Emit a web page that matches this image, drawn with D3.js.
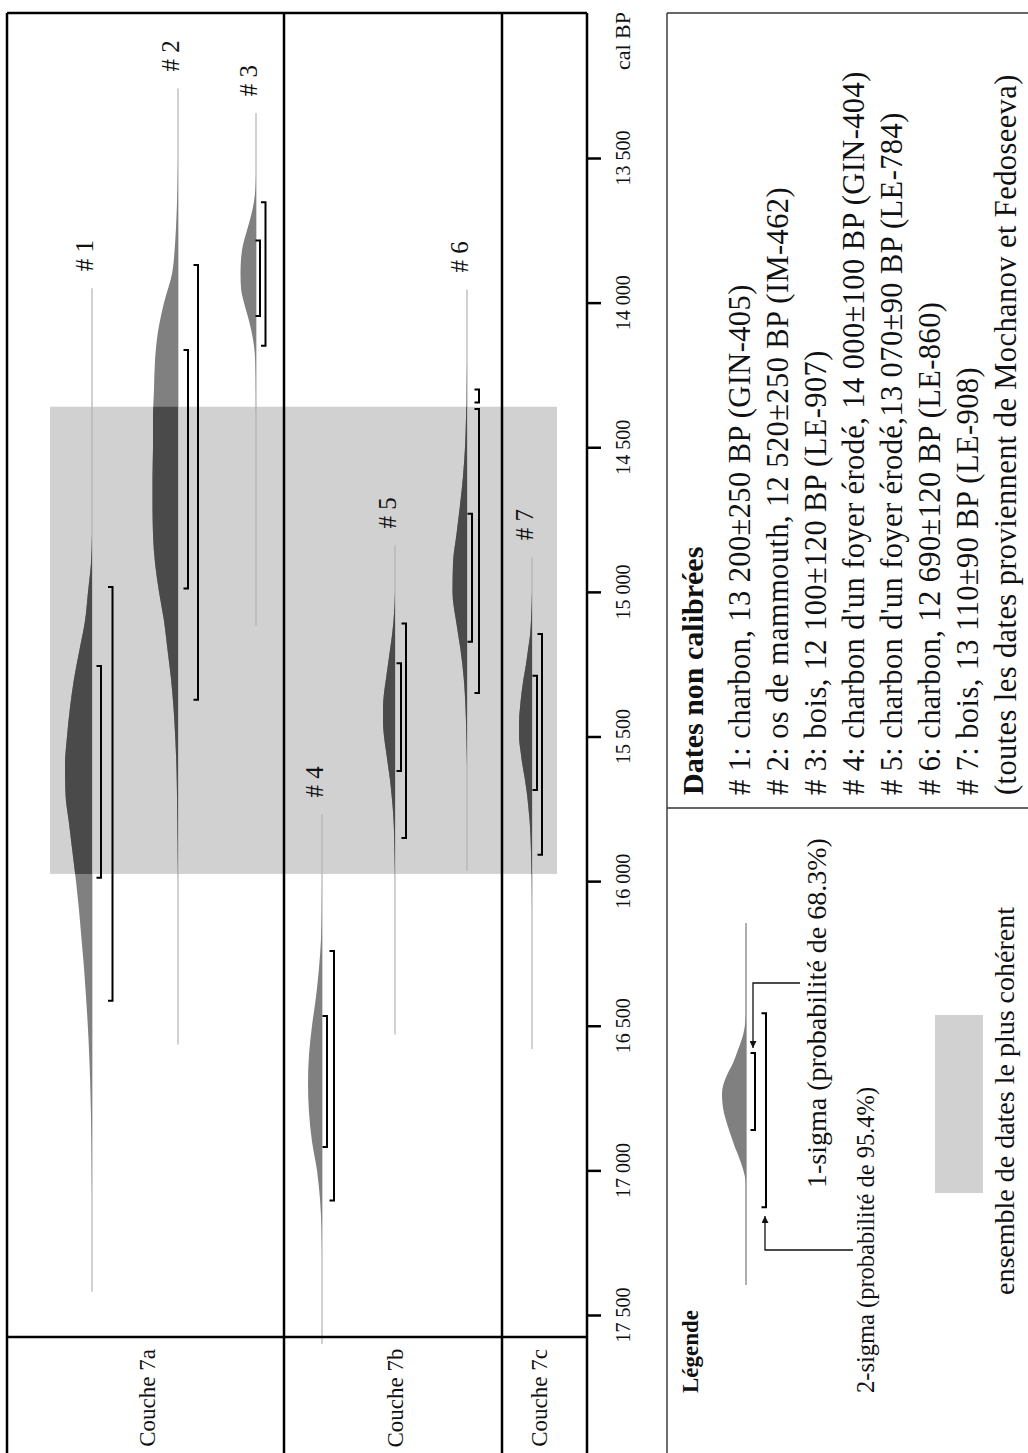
<!DOCTYPE html>
<html>
<head>
<meta charset="utf-8">
<style>
  body { margin: 0; background: #fff; }
  text { font-family: 'Liberation Serif', 'DejaVu Serif', serif; fill: #111; }
</style>
</head>
<body>
<div id="chart"></div>
<script src="https://cdnjs.cloudflare.com/ajax/libs/d3/7.8.5/d3.min.js"></script>
<script>
// all ages in years cal BP
var sampleIds = ['# 1', '# 2', '# 3', '# 4', '# 5', '# 6', '# 7'];
var layerNames = ['Couche 7a', 'Couche 7b', 'Couche 7c'];
var lineStart = [13950, 13260, 13345, 15770, 14840, 13955, 14880];
var lineEnd = [17420, 16565, 15115, 17600, 16530, 15965, 16580];
var sigma1 = [[15256, 15988], [14164, 14988], [13785, 14046], [16466, 16919], [15247, 15619], [14730, 15172], [15290, 15685]];
var sigma2 = [
  [[14983, 16414]],
  [[13870, 15373]],
  [[13653, 14149]],
  [[16242, 17104]],
  [[15109, 15851]],
  [[14300, 14345], [14368, 15350]],
  [[15146, 15909]]
];
// probability curves: [age, relative density]
var dens1 = [[14800,0],[14900,1],[15000,4],[15100,7],[15200,12.5],[15300,18],[15400,22],[15500,25],[15600,27],[15700,26.5],[15800,23],[15900,19.5],[16000,16],[16100,13],[16200,10.5],[16300,8],[16400,6],[16500,4.2],[16600,2.8],[16700,1.8],[16800,1.1],[16900,0.6],[17000,0.3],[17100,0]];
var dens2 = [[13500,0],[13600,0.5],[13700,1.5],[13800,3],[13900,6],[14000,14],[14100,20],[14200,23],[14300,24],[14400,25],[14500,25],[14600,25.5],[14700,25.5],[14800,25],[14900,23],[15000,19],[15100,14],[15200,10.5],[15300,7],[15400,4.5],[15500,2.8],[15600,1.6],[15700,1],[15800,0.6],[15900,0.3],[16000,0]];
var dens3 = [[13550,0],[13600,0.5],[13650,2],[13700,5],[13750,9],[13800,13],[13850,15],[13900,15.5],[13950,15],[14000,12],[14050,8],[14100,4.5],[14150,2],[14200,0.8],[14300,0.2],[14400,0]];
var dens4 = [[16000,0],[16100,0.3],[16200,1],[16300,3],[16400,6],[16500,10],[16600,13],[16700,14],[16800,13],[16900,10],[17000,5],[17100,2],[17200,0.5],[17300,0]];
var dens5 = [[15000,0],[15050,0.5],[15100,1.5],[15150,3],[15200,5],[15250,7],[15300,9],[15350,11],[15400,12],[15450,12],[15500,11],[15550,9],[15600,7],[15650,5],[15700,3.5],[15750,2.2],[15800,1.3],[15900,0.5],[16000,0]];
var dens6 = [[14200,0],[14300,0.5],[14400,1],[14500,2],[14600,4],[14700,7],[14800,10.5],[14900,14],[15000,14.5],[15100,11],[15200,6.5],[15300,3.2],[15400,1.5],[15500,0.6],[15600,0]];
var dens7 = [[15000,0],[15100,1],[15150,2],[15200,4],[15250,6],[15300,8.5],[15350,10.5],[15400,12],[15450,13],[15500,13],[15550,11.5],[15600,9.5],[15650,7],[15700,5],[15750,3.5],[15800,2.2],[15900,1],[16000,0.4],[16100,0]];
var densities = [dens1, dens2, dens3, dens4, dens5, dens6, dens7];
var ensembleRange = [14360, 15975];
var majorTicks = d3.range(13500, 17501, 500);
var minorTicks = d3.range(13100, 17501, 100);

var datesTitle = 'Dates non calibrées';
var datesLines = [
  '# 1: charbon, 13 200±250 BP (GIN-405)',
  '# 2: os de mammouth, 12 520±250 BP (IM-462)',
  '# 3: bois, 12 100±120 BP (LE-907)',
  "# 4: charbon d'un foyer érodé, 14 000±100 BP (GIN-404)",
  "# 5: charbon d'un foyer érodé,13 070±90 BP (LE-784)",
  '# 6: charbon, 12 690±120 BP (LE-860)',
  '# 7: bois, 13 110±90 BP (LE-908)',
  '(toutes les dates proviennent de Mochanov et Fedoseeva)'
];
var legendTitle = 'Légende';
// legend sample curve on a nominal 0-100 scale
var legendShape = [[25,0],[29,1.5],[32,4],[35,8],[38.7,13],[42,19],[45,23],[47,24],[50,23.5],[52.5,22],[55,19.5],[57.2,17],[60,13.5],[62,11],[64,8],[66.3,5],[68.5,2.5],[71,0.5],[73,0]];
var legendSigma1 = [35.9, 57.2];
var legendSigma2 = [24.9, 78.5];
var legendLabels = ['1-sigma (probabilité de 68.3%)', '2-sigma (probabilité de 95.4%)', 'ensemble de dates le plus cohérent'];

// ---- layout
var width = 1028, height = 1453;
var axisX = 587, frameTop = 13, plotBottom = 1337, frameLeft = 7;
var gap1 = [9, 10, 4, 5, 6, 5, 5];      // offset of 1-sigma bracket from baseline
var gap2 = [20.5, 20, 9.5, 12, 11, 12, 10];

var svg = d3.select('#chart').append('svg')
  .attr('width', width)
  .attr('height', height);

var y = d3.scaleLinear().domain([13500, 17500]).range([158, 1315]);
var xSample = d3.scaleOrdinal().domain(sampleIds).range([92, 178, 256, 322, 395, 467, 532]);
var layerX = d3.scaleOrdinal().domain(layerNames).range([[frameLeft, 284], [284, 502], [502, axisX]]);
var wScale = d3.scaleLinear().domain([0, 28]).range([0, 28]);

var locale = d3.formatLocale({decimal: ',', thousands: ' ', grouping: [3], currency: ['', '']});
var fmt = locale.format(',');

function vtext(g, x, yy, str, anchor, size, weight) {
  return g.append('text')
    .attr('transform', 'translate(' + x + ',' + yy + ') rotate(-90)')
    .attr('text-anchor', anchor)
    .style('font-size', size + 'px')
    .style('font-weight', weight || 'normal')
    .text(str);
}

// ensemble rectangle
svg.append('rect')
  .attr('x', 50).attr('width', 507)
  .attr('y', y(ensembleRange[0]))
  .attr('height', y(ensembleRange[1]) - y(ensembleRange[0]))
  .attr('fill', '#d1d1d1');

svg.append('clipPath').attr('id', 'ensClip')
  .append('rect')
  .attr('x', 50).attr('width', 507)
  .attr('y', y(ensembleRange[0]))
  .attr('height', y(ensembleRange[1]) - y(ensembleRange[0]));

// baselines
svg.selectAll('line.base')
  .data(sampleIds)
  .enter()
  .append('line')
  .attr('class', 'base')
  .attr('x1', function(d){ return xSample(d); })
  .attr('x2', function(d){ return xSample(d); })
  .attr('y1', function(d, i){ return y(lineStart[i]); })
  .attr('y2', function(d, i){ return y(lineEnd[i]); })
  .attr('stroke', '#b3b3b3')
  .attr('stroke-width', 1.2);

function areaFor(id) {
  return d3.area()
    .y(function(d){ return y(d[0]); })
    .x0(xSample(id))
    .x1(function(d){ return xSample(id) - wScale(d[1]); })
    .curve(d3.curveMonotoneY);
}

sampleIds.forEach(function(id, i) {
  svg.append('path')
    .attr('d', areaFor(id)(densities[i]))
    .attr('fill', '#808080');
  svg.append('path')
    .attr('d', areaFor(id)(densities[i]))
    .attr('fill', '#4a4a4a')
    .attr('clip-path', 'url(#ensClip)');
});

function bracket(g, x, y0, y1) {
  g.append('path')
    .attr('d', 'M' + (x - 4.5) + ',' + y0 + 'H' + x + 'V' + y1 + 'H' + (x - 4.5))
    .attr('fill', 'none')
    .attr('stroke', '#000')
    .attr('stroke-width', 2);
}

sampleIds.forEach(function(id, i) {
  var bx = xSample(id);
  bracket(svg, bx + gap1[i], y(sigma1[i][0]), y(sigma1[i][1]));
  sigma2[i].forEach(function(r){
    bracket(svg, bx + gap2[i], y(r[0]), y(r[1]));
  });
  vtext(svg, bx + 1, y(lineStart[i]) - 17, id, 'start', 25);
});

// frame
var frame = svg.append('g').attr('stroke', '#000').attr('stroke-width', 2.5);
frame.append('line').attr('x1', frameLeft).attr('x2', axisX).attr('y1', frameTop).attr('y2', frameTop);
frame.append('line').attr('x1', frameLeft).attr('x2', axisX).attr('y1', plotBottom).attr('y2', plotBottom);
frame.append('line').attr('x1', frameLeft).attr('x2', frameLeft).attr('y1', frameTop).attr('y2', height);
layerNames.slice(1).forEach(function(l){
  var xx = layerX(l)[0];
  frame.append('line').attr('x1', xx).attr('x2', xx).attr('y1', frameTop).attr('y2', height);
});
frame.append('line').attr('x1', axisX).attr('x2', axisX).attr('y1', frameTop).attr('y2', height);

var layerBase = [155, 403, 547];
layerNames.forEach(function(l, i){
  vtext(svg, layerBase[i], 1398, l, 'middle', 23);
});

// axis
var axisG = svg.append('g').attr('transform', 'translate(' + axisX + ',0)');
axisG.call(d3.axisLeft(y).tickValues(minorTicks).tickSize(15).tickSizeOuter(0).tickFormat(''));
axisG.call(d3.axisRight(y).tickValues(majorTicks).tickSize(14).tickSizeOuter(0).tickFormat(''));
axisG.selectAll('.domain').remove();
axisG.selectAll('.tick line').attr('stroke', '#000').attr('stroke-width', 2.5);
majorTicks.forEach(function(t){
  vtext(axisG, 43, y(t), fmt(t), 'middle', 20);
});
vtext(axisG, 43, 41, 'cal BP', 'middle', 22);

// legend box
var box = svg.append('g').attr('stroke', '#333').attr('stroke-width', 1.4);
box.append('line').attr('x1', 667).attr('x2', width).attr('y1', frameTop).attr('y2', frameTop);
box.append('line').attr('x1', 667).attr('x2', 667).attr('y1', frameTop).attr('y2', height);
box.append('line').attr('x1', 667).attr('x2', width).attr('y1', 808).attr('y2', 808);

vtext(svg, 703, 795, datesTitle, 'start', 30, 'bold');
datesLines.forEach(function(s, i){
  vtext(svg, 750 + i * 38, 795, s, 'start', 30.5)
    .style('letter-spacing', '0.4px');
});

vtext(svg, 698, 1393, legendTitle, 'start', 23, 'bold');

// legend sample
var ly = d3.scaleLinear().domain([0, 100]).range([923, 1285]);
var lx = 746;
svg.append('line')
  .attr('x1', lx).attr('x2', lx)
  .attr('y1', ly(0)).attr('y2', ly(100))
  .attr('stroke', '#777').attr('stroke-width', 1.2);
svg.append('path')
  .attr('d', d3.area()
    .y(function(d){ return ly(d[0]); })
    .x0(lx)
    .x1(function(d){ return lx - wScale(d[1]); })
    .curve(d3.curveMonotoneY)(legendShape))
  .attr('fill', '#808080');
bracket(svg, lx + 9, ly(legendSigma1[0]), ly(legendSigma1[1]));
bracket(svg, lx + 20, ly(legendSigma2[0]), ly(legendSigma2[1]));

svg.append('defs').append('marker')
  .attr('id', 'arr')
  .attr('viewBox', '0 0 10 10')
  .attr('refX', 10).attr('refY', 5)
  .attr('markerWidth', 7).attr('markerHeight', 7)
  .attr('markerUnits', 'userSpaceOnUse')
  .attr('orient', 'auto')
  .append('path').attr('d', 'M0,0L10,5L0,10z').attr('fill', '#111');

svg.append('path')
  .attr('d', 'M800,983H753V1048')
  .attr('fill', 'none').attr('stroke', '#111').attr('stroke-width', 1.3)
  .attr('marker-end', 'url(#arr)');
svg.append('path')
  .attr('d', 'M853,1250H765V1216')
  .attr('fill', 'none').attr('stroke', '#111').attr('stroke-width', 1.3)
  .attr('marker-end', 'url(#arr)');

vtext(svg, 826, 1188, legendLabels[0], 'start', 28);
vtext(svg, 874, 1393, legendLabels[1], 'start', 24.5);

svg.append('rect')
  .attr('x', 935).attr('y', 1015)
  .attr('width', 48).attr('height', 178)
  .attr('fill', '#d1d1d1');
vtext(svg, 1014, 1295, legendLabels[2], 'start', 28);
</script>
</body>
</html>
